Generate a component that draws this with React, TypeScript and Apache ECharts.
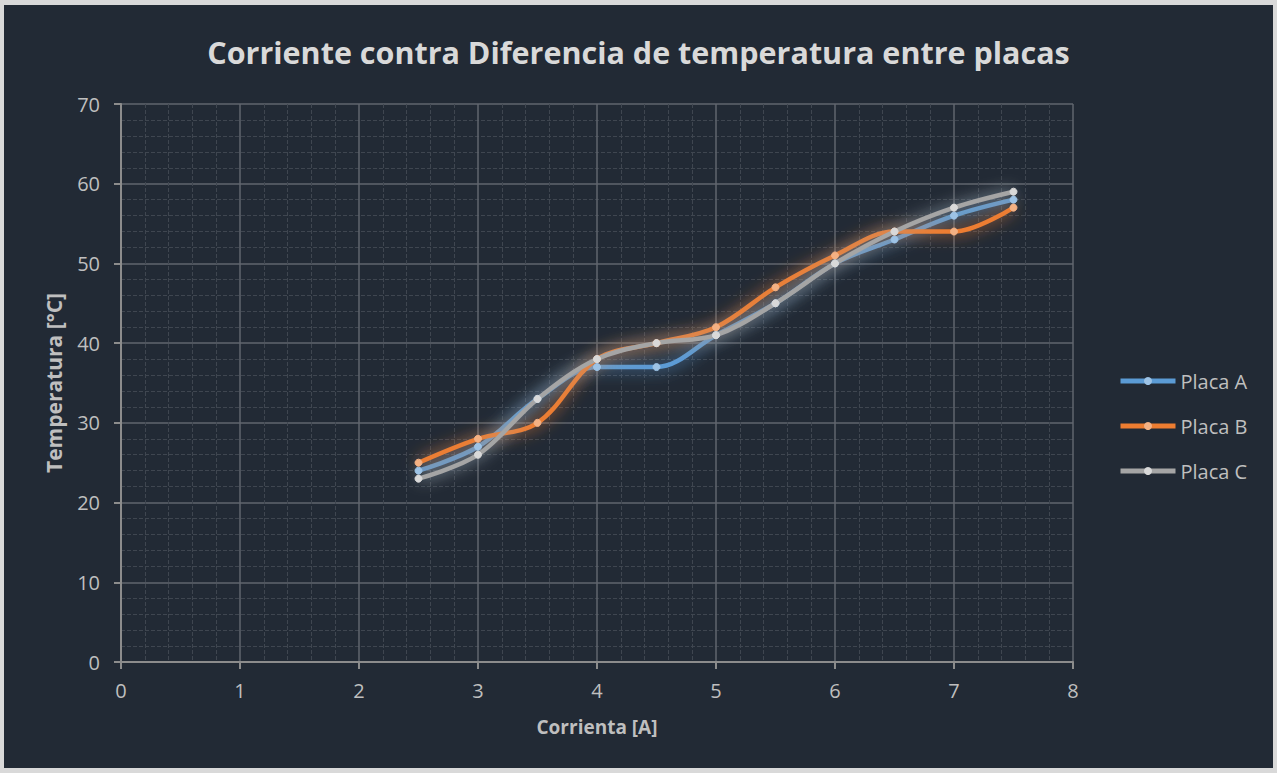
import React, { useEffect, useRef } from "react";
import * as echarts from "echarts";

const corriente = [2.5, 3, 3.5, 4, 4.5, 5, 5.5, 6, 6.5, 7, 7.5];
const placaA = [24, 27, 33, 37, 37, 41, 45, 50, 53, 56, 58];
const placaB = [25, 28, 30, 38, 40, 42, 47, 51, 54, 54, 57];
const placaC = [23, 26, 33, 38, 40, 41, 45, 50, 54, 57, 59];

const seriesNames = ["Placa A", "Placa B", "Placa C"];
const seriesColors = ["#5b9bd5", "#ed7d31", "#a5a5a5"];
const markerColors = ["#9dc3e6", "#f4b183", "#d9d9d9"];

export default function App() {
  const ref = useRef<HTMLDivElement>(null);
  useEffect(() => {
    if (!ref.current) return;
    const chart = echarts.init(ref.current, undefined, { renderer: "svg" });
    const datasets = [placaA, placaB, placaC];
    const font = "'Open Sans', 'Noto Sans', sans-serif";
    chart.setOption({
      animation: false,
      backgroundColor: "#222a35",
      textStyle: { fontFamily: font },
      title: {
        text: "Corriente contra Diferencia de temperatura entre placas",
        left: "center",
        top: 26,
        textStyle: { color: "#d9d9d9", fontSize: 30.5, fontWeight: "bold", fontFamily: font },
      },
      legend: {
        orient: "vertical",
        left: 1109,
        top: 361,
        itemWidth: 55,
        itemHeight: 10,
        itemGap: 25,
        lineStyle: { width: 5, shadowBlur: 0 },
        textStyle: { color: "#bfbfbf", fontSize: 20, fontFamily: font },
        data: seriesNames,
      },
      grid: { left: 117, right: 200, top: 99, bottom: 106, containLabel: false },
      xAxis: {
        type: "value",
        min: 0,
        max: 8,
        interval: 1,
        name: "Corrienta [A]",
        nameLocation: "middle",
        nameGap: 55,
        nameTextStyle: { color: "#bfbfbf", fontSize: 19, fontWeight: "bold", fontFamily: font },
        axisLine: { show: true, lineStyle: { color: "#8c8c8c", width: 2 } },
        axisTick: { show: true, length: 7, lineStyle: { color: "#8c8c8c", width: 2 } },
        axisLabel: { color: "#bfbfbf", fontSize: 20, margin: 18, fontFamily: font },
        splitLine: { show: true, lineStyle: { color: "#60666e", width: 1.5 } },
        minorTick: { show: false, splitNumber: 5 },
        minorSplitLine: { show: true, lineStyle: { color: "#3f4650", type: "dashed", width: 1 } },
      },
      yAxis: {
        type: "value",
        min: 0,
        max: 70,
        interval: 10,
        name: "Temperatura [°C]",
        nameLocation: "middle",
        nameGap: 57,
        nameTextStyle: { color: "#bfbfbf", fontSize: 21, fontWeight: "bold", fontFamily: font },
        axisLine: { show: true, lineStyle: { color: "#8c8c8c", width: 2 } },
        axisTick: { show: true, length: 7, lineStyle: { color: "#8c8c8c", width: 2 } },
        axisLabel: { color: "#bfbfbf", fontSize: 20, margin: 21, fontFamily: font },
        splitLine: { show: true, lineStyle: { color: "#60666e", width: 1.5 } },
        minorTick: { show: false, splitNumber: 5 },
        minorSplitLine: { show: true, lineStyle: { color: "#3f4650", type: "dashed", width: 1 } },
      },
      series: datasets.map((d, i) => ({
        name: seriesNames[i],
        type: "line",
        smooth: 0.35,
        data: corriente.map((x, j) => [x, d[j]]),
        symbol: "circle",
        symbolSize: 7,
        itemStyle: { color: markerColors[i], borderColor: markerColors[i] },
        lineStyle: {
          color: seriesColors[i],
          width: 4.5,
          shadowBlur: 16,
          shadowColor: seriesColors[i],
        },
        color: seriesColors[i],
      })),
    });
    return () => chart.dispose();
  }, []);
  return (
    <div style={{ position: "fixed", left: 0, top: 0, width: 1277, height: 773, background: "#d9d9d9" }}>
      <div
        ref={ref}
        style={{ position: "absolute", left: 4, top: 5, width: 1269, height: 763 }}
      />
    </div>
  );
}
